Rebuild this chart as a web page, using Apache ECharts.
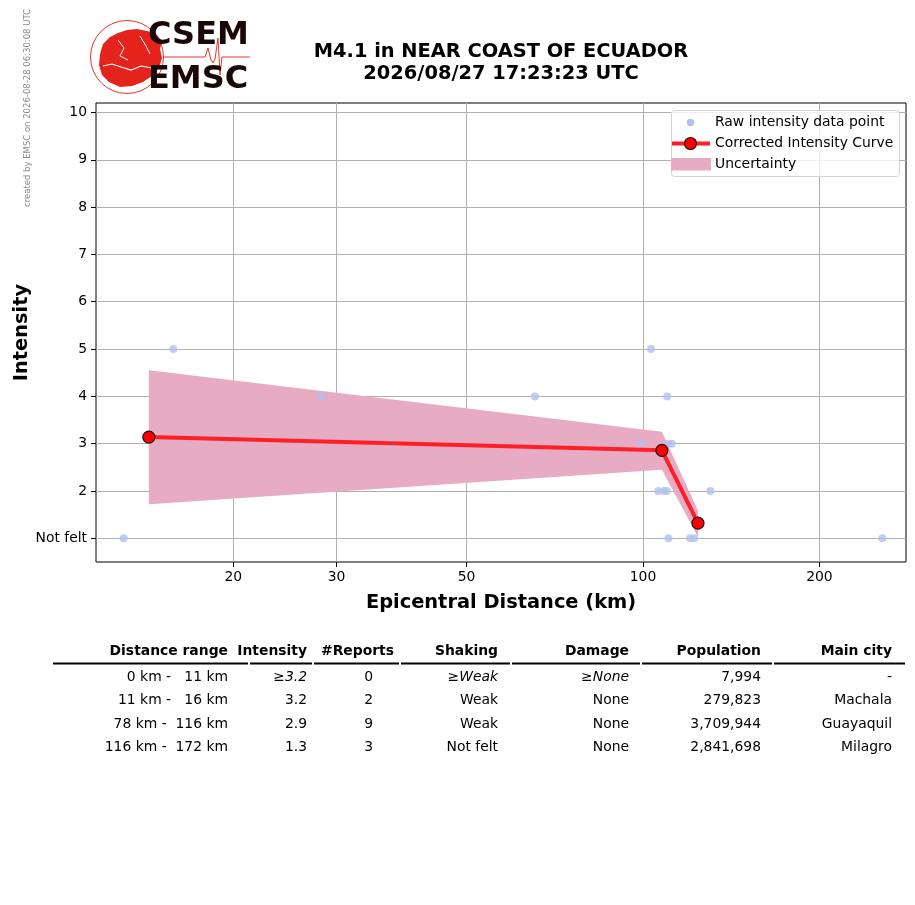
<!DOCTYPE html>
<html><head><meta charset="utf-8">
<script src="https://cdn.jsdelivr.net/npm/echarts@6/dist/echarts.min.js"></script>
<style>html,body{margin:0;padding:0;background:#fff}#c{width:915px;height:905px}</style>
</head><body><div id="c"></div>
<script>
// ---- data ----
const rawDist = [13.0, 15.8, 28.2, 37.3, 65.4, 99.2, 103.2, 110.0, 110.5, 112.0, 106.2, 108.6, 109.8, 130.3, 110.5, 120.3, 122.3, 256];
const rawInt  = [1,    5,    4,    3,    4,    3,    5,     4,     3,     3,     2,     2,     2,     2,     1,     1,     1,     1];
const curveDist = [14.35, 107.7, 124.1];
const curveInt  = [3.14, 2.86, 1.32];
const bandUpper = [4.55, 3.25, 1.59];
const bandLower = [1.72, 2.45, 1.03];
const xTicks = [20, 30, 50, 100, 200];
const yTicks = [1, 2, 3, 4, 5, 6, 7, 8, 9, 10];
const yTickLabels = ['Not felt', '2', '3', '4', '5', '6', '7', '8', '9', '10'];
const titleLines = ['M4.1 in NEAR COAST OF ECUADOR', '2026/08/27 17:23:23 UTC'];
const tableHeader = ['Distance range', 'Intensity', '#Reports', 'Shaking', 'Damage', 'Population', 'Main city'];
const rowRange    = ['0 km -   11 km', '11 km -   16 km', '78 km -  116 km', '116 km -  172 km'];
const rowIntensity= ['≥|3.2', '3.2', '2.9', '1.3'];
const rowReports  = ['0', '2', '9', '3'];
const rowShaking  = ['≥|Weak', 'Weak', 'Weak', 'Not felt'];
const rowDamage   = ['≥|None', 'None', 'None', 'None'];
const rowPop      = ['7,994', '279,823', '3,709,944', '2,841,698'];
const rowCity     = ['-', 'Machala', 'Guayaquil', 'Milagro'];

const FONT = 'DejaVu Sans';
const FS = 13.9;
const chart = echarts.init(document.getElementById('c'), null, {renderer: 'canvas'});

// ---- graphics: logo, titles, legend, table ----
const g = [];
// side text
g.push({type: 'text', x: 28, y: 108, rotation: Math.PI / 2,
  style: {text: 'created by EMSC on 2026-08-28 06:30:08 UTC', fill: '#888', font: '8.5px ' + FONT, align: 'center', verticalAlign: 'middle'}});
// logo globe
g.push({type: 'circle', shape: {cx: 127, cy: 57, r: 36.5}, style: {fill: '#fff', stroke: '#e8332a', lineWidth: 1}});
g.push({type: 'polygon', shape: {points: [[100,54],[103,44],[110,37],[118,33],[127,30],[137,29],[147,31],[156,34],[162,41],[160,49],[162,58],[159,68],[152,76],[143,82],[132,86],[120,87],[109,82],[102,75],[99,65]]},
  style: {fill: '#e3231c'}});
g.push({type: 'polyline', shape: {points: [[103,66],[112,64],[121,67],[131,70],[141,66],[152,68]]}, style: {stroke: '#fff', lineWidth: 1.2, fill: null}});
g.push({type: 'polyline', shape: {points: [[118,40],[124,48],[120,56],[128,60]]}, style: {stroke: '#fff', lineWidth: 1, fill: null}});
g.push({type: 'polyline', shape: {points: [[140,36],[146,46],[150,54]]}, style: {stroke: '#fff', lineWidth: 1, fill: null}});
g.push({type: 'polyline', shape: {points: [[163,57],[205,57],[208,48],[211,60],[213,63],[215,59],[218,38],[220,75],[222,57],[250,57]]},
  style: {stroke: '#e8332a', lineWidth: 1, fill: null}});
g.push({type: 'text', x: 148, y: 36, style: {text: 'CSEM', fill: '#1a0808', font: 'bold 32px ' + FONT, verticalAlign: 'middle'}});
g.push({type: 'text', x: 148, y: 80, style: {text: 'EMSC', fill: '#1a0808', font: 'bold 32px ' + FONT, verticalAlign: 'middle'}});
// titles
titleLines.forEach((t, i) => g.push({type: 'text', x: 501, y: 51.5 + i * 22,
  style: {text: t, fill: '#000', font: 'bold 19.4px ' + FONT, align: 'center', verticalAlign: 'middle'}}));
// legend
g.push({type: 'rect', shape: {x: 671.5, y: 110.5, width: 228, height: 66, r: 3}, style: {fill: 'rgba(255,255,255,0.8)', stroke: '#d4d4d4', lineWidth: 1}, z: 10});
g.push({type: 'circle', shape: {cx: 690.5, cy: 122.5, r: 3.7}, style: {fill: '#b3c1ef'}, z: 11});
g.push({type: 'line', shape: {x1: 672, y1: 143.5, x2: 710, y2: 143.5}, style: {stroke: '#ff1f26', lineWidth: 4}, z: 11});
g.push({type: 'circle', shape: {cx: 690.5, cy: 143.5, r: 6}, style: {fill: '#ff0000', stroke: '#1a1a1a', lineWidth: 1.2}, z: 12});
g.push({type: 'rect', shape: {x: 671, y: 158, width: 40, height: 12.5}, style: {fill: '#e8abc4'}, z: 11});
['Raw intensity data point', 'Corrected Intensity Curve', 'Uncertainty'].forEach((t, i) =>
  g.push({type: 'text', x: 715, y: 122.5 + i * 21, z: 12, style: {text: t, fill: '#000', font: FS + 'px ' + FONT, verticalAlign: 'middle'}}));
// table
const colRight = [228, 307, 394, 498, 629, 761, 892];
const valRight = [228, 307, 373, 498, 629, 761, 892];
const colEdges = [52, 249, 313, 400, 511, 641, 773, 906];
tableHeader.forEach((h, i) => g.push({type: 'text', x: colRight[i], y: 651.5,
  style: {text: h, fill: '#000', font: 'bold ' + FS + 'px ' + FONT, align: 'right', verticalAlign: 'middle'}}));
for (let i = 0; i < colEdges.length - 1; i++) {
  g.push({type: 'line', shape: {x1: colEdges[i] + 1, y1: 663.5, x2: colEdges[i + 1] - 1, y2: 663.5}, style: {stroke: '#000', lineWidth: 1.8}});
}
const rowY = [677, 700.5, 724, 747.5];
const cols = [rowRange, rowIntensity, rowReports, rowShaking, rowDamage, rowPop, rowCity];
cols.forEach((col, ci) => col.forEach((v, ri) => {
  let style = {fill: '#000', font: FS + 'px ' + FONT, align: 'right', verticalAlign: 'middle'};
  if (v.indexOf('|') >= 0) {
    const parts = v.split('|');
    style.text = '{a|' + parts[0] + '}{b|' + parts[1] + '}';
    style.rich = {a: {font: FS + 'px ' + FONT, fill: '#000'}, b: {font: 'italic ' + FS + 'px ' + FONT, fill: '#000'}};
  } else style.text = v;
  g.push({type: 'text', x: valRight[ci], y: rowY[ri], style});
}));

const option = {
  animation: false,
  backgroundColor: '#fff',
  textStyle: {fontFamily: FONT},
  grid: {left: 96, top: 103, width: 810, height: 459, show: true, borderColor: '#000', borderWidth: 1, backgroundColor: 'transparent', containLabel: false, outerBoundsMode: 'none'},
  xAxis: {
    type: 'log', logBase: 10, min: 11.66, max: 281,
    name: 'Epicentral Distance (km)', nameLocation: 'middle', nameGap: 31, nameMoveOverlap: false,
    nameTextStyle: {fontFamily: FONT, fontSize: 19.4, fontWeight: 'bold', color: '#000'},
    axisLine: {show: false},
    axisTick: {show: true, inside: false, length: 5, lineStyle: {color: '#000'}, customValues: xTicks},
    axisLabel: {show: true, color: '#000', fontSize: FS, fontFamily: FONT, margin: 8, customValues: xTicks, formatter: v => String(Math.round(v))},
    splitLine: {show: true, lineStyle: {color: '#b0b0b0', width: 1}},
    minorTick: {show: false}, minorSplitLine: {show: false}
  },
  yAxis: {
    type: 'value', min: 0.5, max: 10.2,
    name: 'Intensity', nameLocation: 'middle', nameGap: 65, nameRotate: 90, nameMoveOverlap: false,
    nameTextStyle: {fontFamily: FONT, fontSize: 19.4, fontWeight: 'bold', color: '#000'},
    axisLine: {show: false},
    axisTick: {show: true, inside: false, length: 5, lineStyle: {color: '#000'}, customValues: yTicks},
    axisLabel: {show: true, color: '#000', fontSize: FS, fontFamily: FONT, margin: 9, customValues: yTicks,
      formatter: v => yTickLabels[yTicks.indexOf(Math.round(v))] || ''},
    splitLine: {show: true, lineStyle: {color: '#b0b0b0', width: 1}}
  },
  series: [
    {type: 'custom', name: 'Uncertainty', silent: true, z: 1,
      data: curveDist.map((d, i) => [d, bandLower[i], bandUpper[i]]),
      encode: {x: 0, y: [1, 2]},
      renderItem: (params, api) => {
        if (params.dataIndex !== 0) return;
        const up = curveDist.map((d, i) => api.coord([d, bandUpper[i]]));
        const lo = curveDist.map((d, i) => api.coord([d, bandLower[i]])).reverse();
        return {type: 'polygon', shape: {points: up.concat(lo)}, style: {fill: '#e8abc4'}};
      }},
    {type: 'scatter', name: 'Raw intensity data point', silent: true, z: 2, symbolSize: 8,
      itemStyle: {color: '#b3c1ef'}, data: rawDist.map((d, i) => [d, rawInt[i]])},
    {type: 'line', name: 'Corrected Intensity Curve', silent: true, z: 3,
      symbol: 'circle', symbolSize: 12, showSymbol: true,
      lineStyle: {color: '#ff1f26', width: 4},
      itemStyle: {color: '#ff0000', borderColor: '#1a1a1a', borderWidth: 1.2},
      data: curveDist.map((d, i) => [d, curveInt[i]])}
  ],
  graphic: g
};
chart.setOption(option);
</script>
</body></html>
